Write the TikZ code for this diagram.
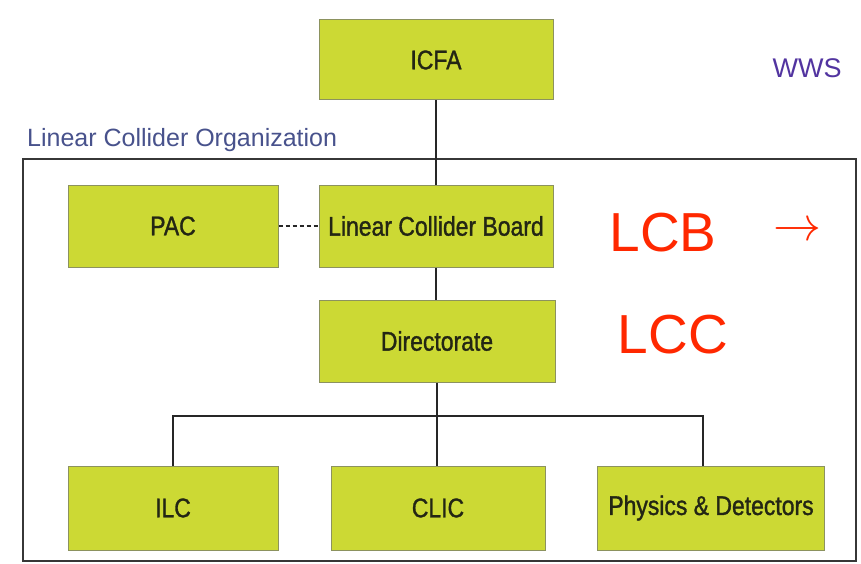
\documentclass[tikz,border=0pt]{standalone}
\usepackage{fontspec}
\setmainfont{Liberation Sans}
\newfontfamily\boxfont{Liberation Sans}[FakeStretch=0.85,FakeBold=1.2]
\definecolor{boxfill}{RGB}{204,217,52}
\definecolor{boxline}{RGB}{140,146,95}
\definecolor{boxtext}{RGB}{35,38,20}
\definecolor{orgblue}{RGB}{72,82,140}
\definecolor{wwspurple}{RGB}{82,52,160}
\definecolor{lcred}{RGB}{255,40,0}
\definecolor{frame}{RGB}{55,55,55}
\tikzset{
  orgbox/.style={draw=boxline, line width=1pt, fill=boxfill, inner sep=0pt,
    font=\boxfont\fontsize{27}{30}\selectfont, text=boxtext},
  link/.style={draw=black!85, line width=1.5pt},
  redlabel/.style={text=lcred, font=\fontsize{55}{60}\selectfont, inner sep=0pt}
}
\begin{document}
\begin{tikzpicture}[x=1pt,y=-1pt]
\useasboundingbox (0,0) rectangle (861,564);
% outer frame
\draw[frame, line width=2pt] (23,159) rectangle (856,561);
\node[anchor=base west, text=orgblue, inner sep=0pt, font=\fontsize{25}{30}\selectfont] (org) at (27,147) {Linear Collider Organization};
\node[text=wwspurple, inner sep=0pt, font=\fontsize{27}{30}\selectfont] (wws) at (807,68) {WWS};

\node[orgbox, minimum width=234pt, minimum height=80pt] (icfa) at (436,60) {ICFA};
\node[orgbox, minimum width=210pt, minimum height=82pt] (pac) at (173,226) {PAC};
\node[orgbox, minimum width=234pt, minimum height=82pt] (lcb) at (436,226) {Linear Collider Board};
\node[orgbox, minimum width=236pt, minimum height=82pt] (dir) at (437,341) {Directorate};
\node[orgbox, minimum width=210pt, minimum height=84pt] (ilc) at (173,508) {ILC};
\node[orgbox, minimum width=214pt, minimum height=84pt] (clic) at (438,508) {CLIC};
\node[orgbox, minimum width=227pt, minimum height=84pt] (phys) at (711,508) {Physics \& Detectors};

\node[redlabel] (lcbred) at (663,233) {LCB};
\node[redlabel] (lccred) at (673,335) {LCC};
\node[text=lcred, inner sep=0pt] (arr) at (797,232) {\scalebox{4.8}{$\rightarrow$}};

\coordinate (bus) at (437,416);
\draw[link] (icfa.south) -- (lcb.north);
\draw[link] (lcb.south) -- (dir.north -| lcb.south);
\draw[link] (dir.south -| bus) -- (bus) -- (clic.north -| bus);
\draw[link] (ilc.north) |- (bus);
\draw[link] (bus) -| ([xshift=-8pt]phys.north);
\draw[link, dash pattern=on 4pt off 3pt] (pac.east) -- (lcb.west);
\end{tikzpicture}
\end{document}
